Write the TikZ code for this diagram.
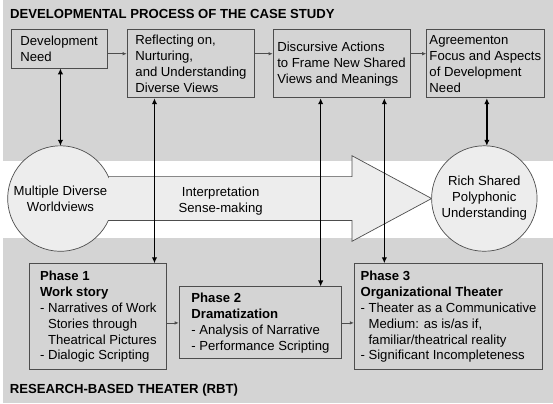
\documentclass[tikz,border=0pt]{standalone}
\usepackage{fontspec}
\setmainfont{Liberation Sans}
\usepackage{tikz}
\usetikzlibrary{arrows.meta,calc}
\usepackage{tkz-euclide}
\usepackage{xcolor}
\definecolor{PanelGray}{HTML}{D4D4D4}
\definecolor{ShapeGray}{HTML}{EDEDED}
\definecolor{FrameGray}{HTML}{4D4D4D}
\newcommand{\dashindent}{\phantom{-\ }}

\begin{document}
\begin{tikzpicture}[x=1pt,y=1pt,
    every node/.style={font=\fontsize{13.2}{16}\selectfont},
    stage/.style={draw=FrameGray,line width=0.9pt,fill=PanelGray,align=left,inner sep=0pt},
    bubble/.style={circle,minimum size=106pt,inner sep=0pt,outer sep=0pt,align=center},
    flow/.style={-{Latex[length=4pt,width=3.5pt]},line width=0.7pt,draw=FrameGray},
    link/.style={{Latex[length=6pt,width=5.5pt]}-{Latex[length=6pt,width=5.5pt]},line width=1.6pt},
    heading/.style={anchor=base west,inner sep=0pt,font=\fontsize{13.2}{16}\selectfont\bfseries}]
    \fill[PanelGray] (0,0) rectangle (553,405);
    \fill[white] (0,166) rectangle (553,243.3);

    \tkzDefPoint(58,205.5){O}
    \tkzDefPoint(106.2,227.5){J}
    \tkzDefPoint(351,227.5){A}
    \tkzDefPoint(351,248.5){B}
    \tkzDefPoint(431,205.5){C}
    \tkzDefPoint(351,162.5){D}
    \tkzDefPoint(351,183.5){E}
    \tkzDefPoint(106.2,183.5){K}
    \draw[FrameGray,line width=0.7pt,fill=ShapeGray] (J) -- (A) -- (B) -- (C) -- (D) -- (E) -- (K)
        arc[start angle=-24.5,end angle=-335.5,radius=53] -- cycle;

    \node[bubble] (world) at (O) {Multiple Diverse\\Worldviews};
    \node[bubble,draw=FrameGray,line width=0.7pt,fill=ShapeGray] (shared) at (484,205.5) {Rich Shared\\Polyphonic\\Understanding};
    \node[align=center] (sense) at (219,202.5) {Interpretation\\Sense-making};

    \node[heading] (process) at (7.3,386.7) {DEVELOPMENTAL PROCESS OF THE CASE STUDY};
    \node[stage,minimum width=96.7pt,minimum height=38.3pt] (need) at (56.65,355.85) {Development\\Need};
    \node[stage,minimum width=128.3pt,minimum height=68.3pt] (reflect) at (189.15,340.85) {Reflecting on,\\Nurturing,\\and Understanding\\Diverse Views};
    \node[stage,minimum width=137.6pt,minimum height=68.3pt] (discourse) at (340.5,340.85) {Discursive Actions\\to Frame New Shared\\Views and Meanings};
    \node[stage,minimum width=118pt,minimum height=68.3pt] (agree) at (485,340.85) {Agreementon\\Focus and Aspects\\of Development\\Need};

    \node[stage,minimum width=137.7pt,minimum height=106.7pt] (phase1) at (96.15,86.65) {\textbf{Phase 1}\\\textbf{Work story}\\- Narratives of Work\\\dashindent Stories through\\\dashindent Theatrical Pictures\\- Dialogic Scripting};
    \node[stage,minimum width=163.3pt,minimum height=72.4pt] (phase2) at (258.95,80.5) {\textbf{Phase 2}\\\textbf{Dramatization}\\- Analysis of Narrative\\- Performance Scripting};
    \node[stage,minimum width=189.4pt,minimum height=106.7pt] (phase3) at (448,86.65) {\textbf{Phase 3}\\\textbf{Organizational Theater}\\- Theater as a Communicative\\\dashindent Medium: as is/as if,\\\dashindent familiar/theatrical reality\\- Significant Incompleteness};
    \node[heading] (rbt) at (7,10) {RESEARCH-BASED THEATER (RBT)};

    \coordinate (toprow) at (0,351);
    \draw[flow] (need.east |- toprow) -- (reflect.west |- toprow);
    \draw[flow] (reflect.east |- toprow) -- (discourse.west |- toprow);
    \draw[flow] (discourse.east |- toprow) -- (agree.west |- toprow);
    \draw[flow] (phase1.east |- phase2.west) -- (phase2.west);
    \draw[flow] (phase2.east) -- (phase3.west |- phase2.east);

    \foreach \from/\to/\x in {need/world/58,reflect/phase1/152.5,discourse/phase2/319.5,discourse/phase3/383.5,agree/shared/486.5}
        \draw[link] (\from.south -| \x,0) -- (\to.north -| \x,0);
\end{tikzpicture}
\end{document}
